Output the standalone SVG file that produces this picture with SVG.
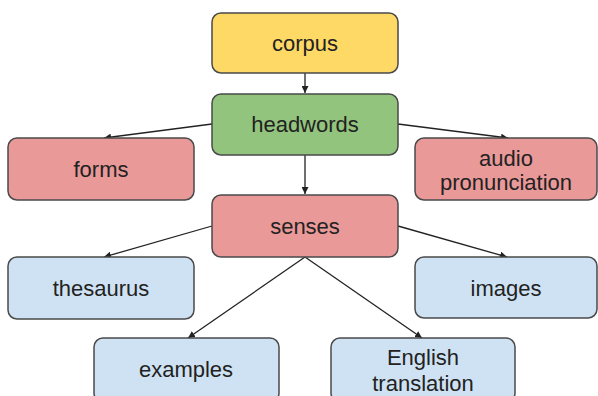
<svg xmlns="http://www.w3.org/2000/svg" width="598" height="396" viewBox="0 0 598 396">
<style>
.n{stroke:#4a4a4a;stroke-width:1.5}
.y{fill:#ffd966}.g{fill:#93c47d}.r{fill:#ea9999}.b{fill:#cfe2f3}
text{font-family:"Liberation Sans",Arial,sans-serif;font-size:22px;fill:#222;text-anchor:middle}
.e{stroke:#222;stroke-width:1.3;fill:none;marker-end:url(#a)}
</style>
<defs>
<marker id="a" viewBox="0 0 10 10" refX="10" refY="5" markerWidth="7" markerHeight="7" markerUnits="userSpaceOnUse" orient="auto">
<path d="M0,0 L10,5 L0,10 z" fill="#222"/>
</marker>
</defs>
<rect width="598" height="396" fill="#fff"/>
<g id="connectors">
<line class="e" x1="305" y1="73" x2="305" y2="93"/>
<line class="e" x1="212" y1="124" x2="104" y2="138"/>
<line class="e" x1="398" y1="124" x2="508" y2="138"/>
<line class="e" x1="305" y1="155" x2="305" y2="194"/>
<line class="e" x1="212" y1="226" x2="104" y2="257"/>
<line class="e" x1="398" y1="226" x2="507" y2="257"/>
<line class="e" x1="305" y1="257" x2="188" y2="338"/>
<line class="e" x1="305" y1="257" x2="422" y2="338"/>
</g>
<g id="corpus"><rect class="n y" x="212" y="13" width="186" height="60" rx="9"/><text x="305" y="51">corpus</text></g>
<g id="headwords"><rect class="n g" x="212" y="94" width="186" height="61" rx="9"/><text x="305" y="132">headwords</text></g>
<g id="forms"><rect class="n r" x="8" y="138" width="186" height="62" rx="9"/><text x="101" y="177">forms</text></g>
<g id="audio"><rect class="n r" x="415" y="138" width="182" height="62" rx="9"/><text x="506" y="166">audio</text><text x="506" y="190">pronunciation</text></g>
<g id="senses"><rect class="n r" x="212" y="195" width="186" height="62" rx="9"/><text x="305" y="234">senses</text></g>
<g id="thesaurus"><rect class="n b" x="8" y="257" width="186" height="62" rx="9"/><text x="101" y="296">thesaurus</text></g>
<g id="images"><rect class="n b" x="415" y="257" width="182" height="61" rx="9"/><text x="506" y="296">images</text></g>
<g id="examples"><rect class="n b" x="94" y="338" width="185" height="64" rx="9"/><text x="186" y="377">examples</text></g>
<g id="translation"><rect class="n b" x="331" y="338" width="184" height="64" rx="9"/><text x="423" y="365">English</text><text x="423" y="391">translation</text></g>
</svg>
